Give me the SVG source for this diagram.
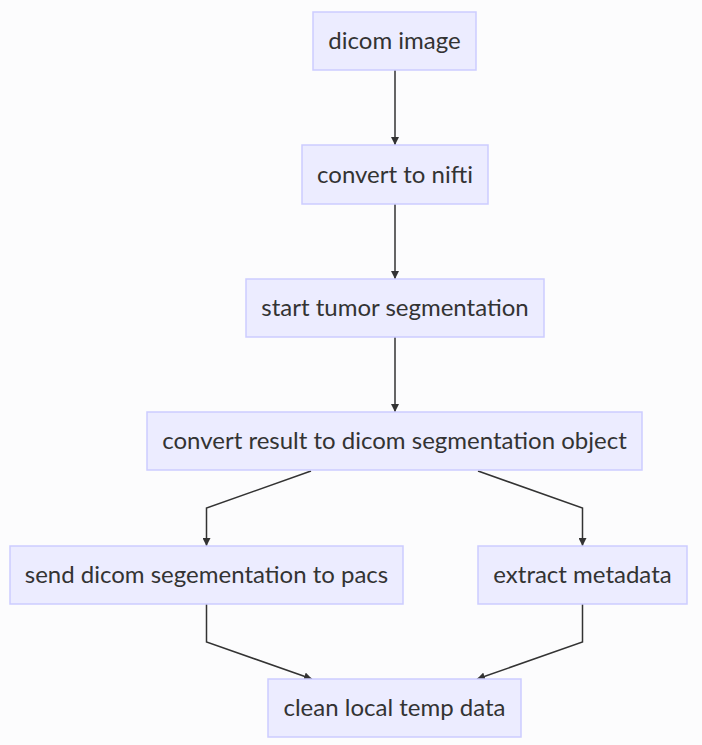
<svg xmlns="http://www.w3.org/2000/svg" width="702" height="745" viewBox="0 0 702 745">
<defs>
<style>
.node rect{fill:#ECECFF;stroke:#CCCCFF;stroke-width:1.5}
.node text{font-family:Lato,"Liberation Sans",sans-serif;font-size:24px;fill:#333;text-anchor:middle;dominant-baseline:central}
.edges path{fill:none;stroke:#333;stroke-width:1.5;marker-end:url(#arr)}
</style>
<marker id="arr" viewBox="0 0 10 10" refX="10" refY="5" markerWidth="8" markerHeight="8" orient="auto" markerUnits="userSpaceOnUse">
<path d="M0,0 L10,5 L0,10 z" fill="#333"/>
</marker>
</defs>
<rect width="702" height="745" fill="#FCFCFD"/>
<g class="edges">
<path d="M395,70 V145"/>
<path d="M395,204 V279"/>
<path d="M395,337 V412"/>
<path d="M311,471 L206.5,508 V546"/>
<path d="M478,471 L582.5,508 V546"/>
<path d="M206.5,604 V642 L312,679"/>
<path d="M582.5,604 V642 L477,679"/>
</g>
<g id="n1" class="node"><rect x="313" y="12" width="163" height="58"/><text x="394.5" y="39.5">dicom image</text></g>
<g id="n2" class="node"><rect x="302" y="145" width="186" height="59"/><text x="395" y="173">convert to nifti</text></g>
<g id="n3" class="node"><rect x="246" y="279" width="298" height="58"/><text x="395" y="306.5">start tumor segmentation</text></g>
<g id="n4" class="node"><rect x="147" y="412" width="495" height="58"/><text x="394.5" y="439.5">convert result to dicom segmentation object</text></g>
<g id="n5" class="node"><rect x="10" y="546" width="393" height="58"/><text x="206.5" y="573.5">send dicom segementation to pacs</text></g>
<g id="n6" class="node"><rect x="478" y="546" width="209" height="58"/><text x="582.5" y="573.5">extract metadata</text></g>
<g id="n7" class="node"><rect x="268" y="679" width="253" height="58"/><text x="394.5" y="706.5">clean local temp data</text></g>
</svg>
